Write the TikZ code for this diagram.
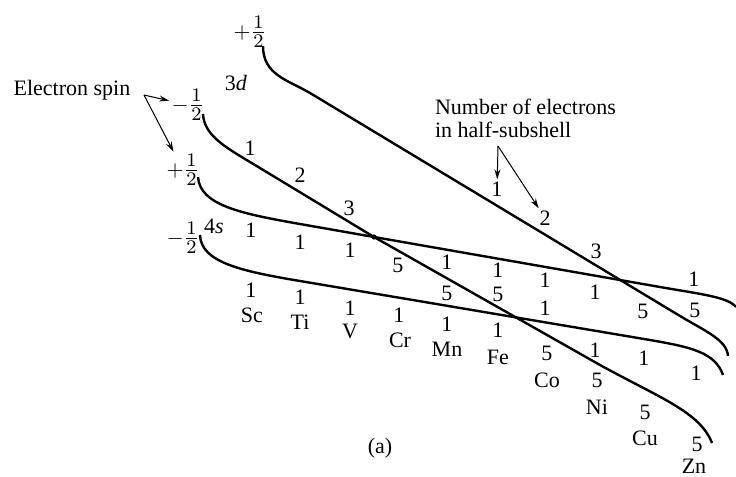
\documentclass[tikz,border=0pt]{standalone}
\usepackage{fontspec}
\setmainfont{Liberation Serif}
\usetikzlibrary{arrows.meta}
\newcommand{\halfspin}{\scalebox{1.2}{$\frac{1}{2}$}}

\begin{document}
\begin{tikzpicture}
[x=0.5pt, y=-0.5pt, font={\fontsize{11}{11.5}\selectfont}]
\tikzstyle{level}=[line width=1.2pt]
\tikzstyle{num}=[inner sep=1pt]
\tikzstyle{spin}=[inner sep=1pt]
\tikzstyle{pointer}=[line width=0.5pt, -{Stealth[length=5pt,width=3pt]}]
\tikzstyle{cross}=[circle, fill=black, inner sep=0mm, minimum size=2.6pt]

\useasboundingbox (0,0) rectangle (736,477);

% spin values and subshells
\node[spin]	(p3d)	at (250,32)	{$+$\halfspin};
\node[spin]	(m3d)	at (188,105)	{$-$\halfspin};
\node[spin]	(p4s)	at (183,170)	{$+$\halfspin};
\node[spin]	(m4s)	at (183,238)	{$-$\halfspin};
\node		(d3)	at (236,83)	{3\textit{d}};
\node		(s4)	at (214,226)	{4\textit{s}};

\node		(spin)	at (72,90)	{Electron spin};
\node		(nlabel)	at (428,118)	[anchor=west, align=left] {Number of electrons\\in half-subshell};
\coordinate	(sp)	at (144,95);
\coordinate	(np)	at (498,146);

\node[cross]	(X)	at (374,237) {};

% the four levels
\draw[level] (263,46) .. controls (263,75) and (288,80) .. (310,93) -- (680,316) .. controls (705,331) and (727,340) .. (728,356);
\draw[level] (203,114) .. controls (204,135) and (225,147) .. (250,162) -- (X.center) -- (600,365) .. controls (660,398) and (700,412) .. (712,443);
\draw[level] (198,177) .. controls (200,205) and (240,213.5) .. (300,224) -- (X.center) -- (660,287) .. controls (700,294) and (728,297) .. (736,307);
\draw[level] (200,235) .. controls (201,262) and (240,271) .. (300,281) -- (650,340) .. controls (690,347) and (715,352) .. (723,375);

% electrons along the 3d lines
\node[num]	(bm1)	at (250,148)	{1};
\node[num]	(bm2)	at (300,175)	{2};
\node[num]	(bm3)	at (349,208)	{3};
\node[num]	(bp1)	at (497,189)	{1};
\node[num]	(bp2)	at (545,218)	{2};
\node[num]	(bp3)	at (596,251)	{3};

% columns
\node[num]	(Sc1)	at (251,230)	{1};
\node[num]	(Sc2)	at (251,290)	{1};
\node		(Sc)	at (252,315)	{Sc};
\node[num]	(Ti1)	at (300,242)	{1};
\node[num]	(Ti2)	at (300,297)	{1};
\node		(Ti)	at (300,322)	{Ti};
\node[num]	(V1)	at (350,250)	{1};
\node[num]	(V2)	at (350,308)	{1};
\node		(V)	at (350,331)	{V};
\node[num]	(Cr1)	at (398,265)	{5};
\node[num]	(Cr2)	at (399,315)	{1};
\node		(Cr)	at (400,340)	{Cr};
\node[num]	(Mn1)	at (447,262)	{1};
\node[num]	(Mn2)	at (447,293)	{5};
\node[num]	(Mn3)	at (447,324)	{1};
\node		(Mn)	at (447,349)	{Mn};
\node[num]	(Fe1)	at (498,270)	{1};
\node[num]	(Fe2)	at (498,294)	{5};
\node[num]	(Fe3)	at (498,330)	{1};
\node		(Fe)	at (498,357)	{Fe};
\node[num]	(Co1)	at (545,280)	{1};
\node[num]	(Co2)	at (545,308)	{1};
\node[num]	(Co3)	at (547,353)	{5};
\node		(Co)	at (547,380)	{Co};
\node[num]	(Ni1)	at (595,292)	{1};
\node[num]	(Ni2)	at (595,350)	{1};
\node[num]	(Ni3)	at (597,380)	{5};
\node		(Ni)	at (597,407)	{Ni};
\node[num]	(Cu1)	at (643,311)	{5};
\node[num]	(Cu2)	at (644,358)	{1};
\node[num]	(Cu3)	at (645,412)	{5};
\node		(Cu)	at (645,438)	{Cu};
\node[num]	(Zn1)	at (694,279)	{1};
\node[num]	(Zn2)	at (695,310)	{5};
\node[num]	(Zn3)	at (696,373)	{1};
\node[num]	(Zn4)	at (697,444)	{5};
\node		(Zn)	at (694,466)	{Zn};

\node		(cap)	at (380,448)	{(a)};

\draw[pointer]	(sp) -- (m3d);
\draw[pointer]	(sp) -- (p4s);
\draw[pointer]	(np) -- (bp1);
\draw[pointer]	(np) -- (bp2);

\end{tikzpicture}
\end{document}
